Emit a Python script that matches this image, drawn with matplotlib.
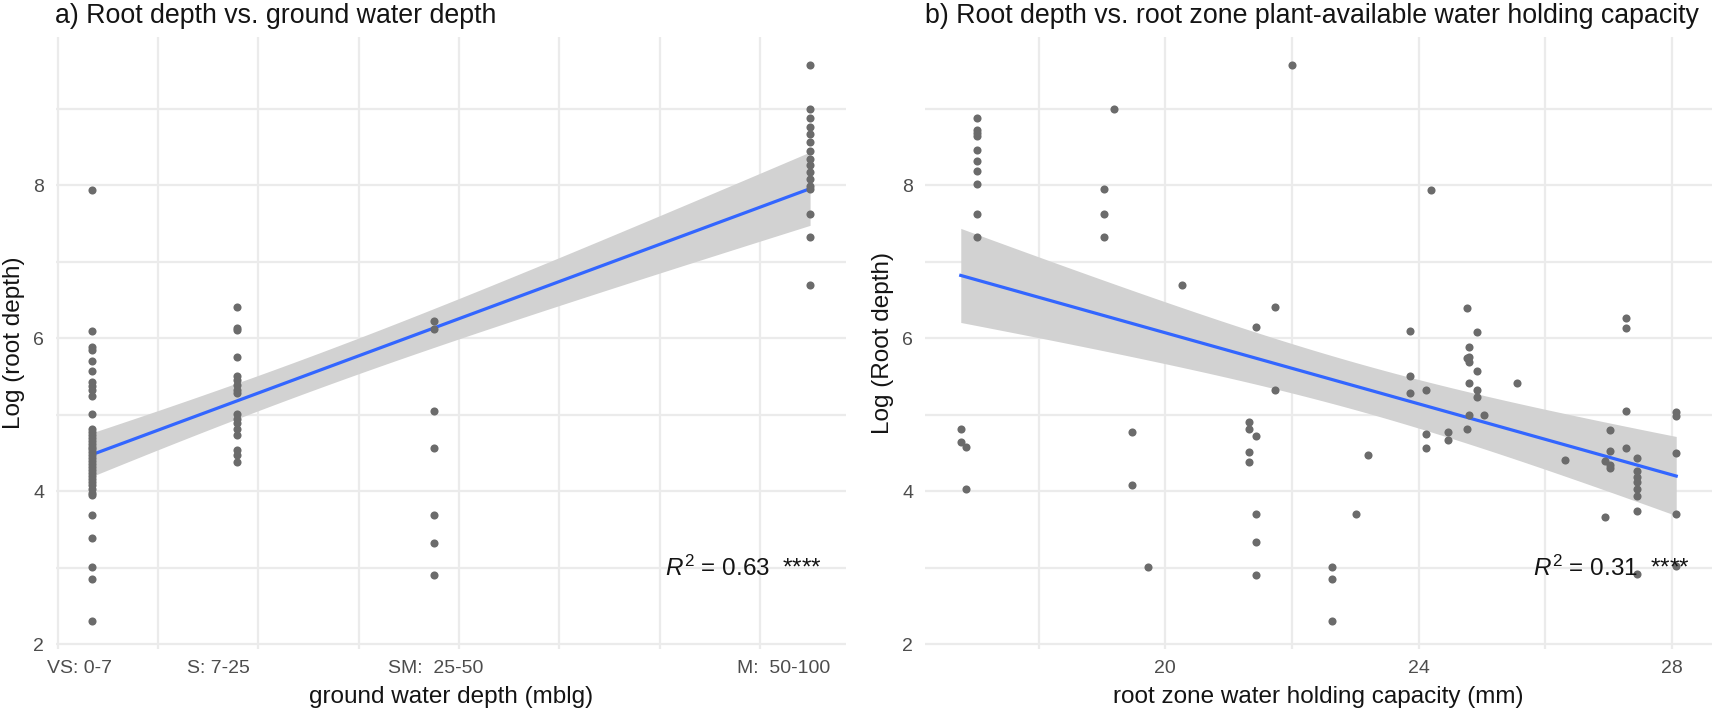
import numpy as np
import matplotlib
matplotlib.use("Agg")
import matplotlib.pyplot as plt

plt.rcParams['font.family'] = ['Liberation Sans', 'DejaVu Sans']
plt.rcParams['mathtext.fontset'] = 'custom'
plt.rcParams['mathtext.rm'] = 'Liberation Sans'
plt.rcParams['mathtext.it'] = 'Liberation Sans:italic'

# ---------------- data: panel a ----------------
gw_categories = ["VS: 0-7", "S: 7-25", "SM:  25-50", "M:  50-100"]
gw_label_pos = [2.15, 16.0, 37.7, 72.4]
gw_x = [3.4, 17.9, 37.5, 75.0]          # position of each depth class on the numeric axis
vs_depth = [7.93, 6.09, 5.89, 5.85, 5.70, 5.57, 5.43, 5.38, 5.32, 5.24, 5.01,
            4.82, 4.78, 4.74, 4.70, 4.66, 4.62, 4.58, 4.55, 4.51, 4.47, 4.43, 4.40,
            4.36, 4.32, 4.28, 4.24, 4.20, 4.16, 4.12, 4.08, 4.03, 3.98, 3.95,
            3.69, 3.39, 3.01, 2.85, 2.31]
s_depth = [6.41, 6.13, 6.11, 5.75, 5.51, 5.46, 5.39, 5.32, 5.28, 5.01, 4.95,
           4.89, 4.82, 4.73, 4.54, 4.47, 4.38]
sm_depth = [6.22, 6.12, 5.05, 4.56, 3.69, 3.33, 2.91]
m_depth = [9.57, 9.00, 8.87, 8.76, 8.67, 8.56, 8.45, 8.34, 8.26, 8.17, 8.08,
           7.99, 7.95, 7.62, 7.32, 6.70]
gw_r2_label = "0.63"

# ---------------- data: panel b ----------------
whc_mm = [16.77, 16.77, 16.86, 16.86,
          17.03, 17.03, 17.03, 17.03, 17.03, 17.03, 17.03, 17.03, 17.03, 17.03,
          19.03, 19.03, 19.03, 19.19, 19.48, 19.48, 19.72, 20.26,
          21.32, 21.32, 21.32, 21.32, 21.44, 21.44, 21.44, 21.44, 21.44,
          21.74, 21.74, 22.00, 22.64, 22.64, 22.64, 23.01, 23.20,
          23.87, 23.87, 23.87, 24.11, 24.11, 24.11, 24.19, 24.46, 24.46,
          24.76, 24.76, 24.76, 24.80, 24.80, 24.80, 24.80, 24.80,
          24.93, 24.93, 24.93, 24.93, 25.03, 25.55, 26.31, 26.95, 26.95,
          27.02, 27.02, 27.02, 27.02, 27.27, 27.27, 27.27, 27.27,
          27.45, 27.45, 27.45, 27.45, 27.45, 27.45, 27.45, 27.45,
          28.07, 28.07, 28.07, 28.07, 28.07]
whc_root = [4.82, 4.65, 4.58, 4.03,
            8.87, 8.72, 8.68, 8.64, 8.46, 8.31, 8.18, 8.01, 7.62, 7.32,
            7.95, 7.62, 7.32, 9.00, 4.77, 4.08, 3.01, 6.70,
            4.91, 4.82, 4.52, 4.38, 4.72, 3.70, 3.34, 2.91, 6.14,
            6.41, 5.32, 9.57, 3.01, 2.85, 2.31, 3.70, 4.48,
            6.10, 5.50, 5.28, 5.32, 4.75, 4.57, 7.93, 4.78, 4.67,
            6.40, 5.74, 4.82, 5.88, 5.76, 5.69, 5.41, 5.00,
            6.08, 5.57, 5.32, 5.23, 5.00, 5.41, 4.41, 4.39, 3.67,
            4.80, 4.53, 4.34, 4.30, 6.26, 6.13, 5.05, 4.57,
            4.44, 4.27, 4.19, 4.12, 4.03, 3.94, 3.74, 2.92,
            5.04, 4.98, 4.50, 3.70, 3.03]
whc_r2_label = "0.31"

# ---------------- styling ----------------
POINT_C = '#6b6b6b'
LINE_C = '#3366FF'
BAND_C = '#D2D2D2'
GRID_C = '#EBEBEB'
TICK_C = '#4D4D4D'
TEXT_C = '#141414'
T975 = 1.99

fig = plt.figure(figsize=(17.25, 7.17), dpi=100)
PB, PH = 68.5 / 717, 611.4 / 717
axA = fig.add_axes([56 / 1725, PB, 790 / 1725, PH])
axB = fig.add_axes([925 / 1725, PB, 787 / 1725, PH])


def lm_band(ax, x, y):
    x = np.asarray(x, float)
    y = np.asarray(y, float)
    n = len(x)
    b, a = np.polyfit(x, y, 1)
    xs = np.linspace(x.min(), x.max(), 80)
    fit = a + b * xs
    resid = y - (a + b * x)
    s = np.sqrt(np.sum(resid ** 2) / (n - 2))
    sxx = np.sum((x - x.mean()) ** 2)
    se = s * np.sqrt(1.0 / n + (xs - x.mean()) ** 2 / sxx)
    ax.fill_between(xs, fit - T975 * se, fit + T975 * se, color=BAND_C, lw=0, zorder=2)
    ax.plot(xs, fit, color=LINE_C, lw=2.3, zorder=4)


def style(ax):
    for sp in ax.spines.values():
        sp.set_visible(False)
    ax.tick_params(which='both', length=0)
    ax.tick_params(axis='x', pad=8.5, labelsize=14, labelcolor=TICK_C)
    ax.tick_params(axis='y', pad=8.5, labelsize=14, labelcolor=TICK_C)
    ax.set_axisbelow(True)


# ---- panel a ----
xa = np.concatenate([np.full(len(vs_depth), gw_x[0]), np.full(len(s_depth), gw_x[1]),
                     np.full(len(sm_depth), gw_x[2]), np.full(len(m_depth), gw_x[3])])
ya = np.concatenate([vs_depth, s_depth, sm_depth, m_depth])
lm_band(axA, xa, ya)
axA.scatter(xa, ya, s=34, color=POINT_C, lw=0, zorder=5)
rng = xa.max() - xa.min()
axA.set_xlim(xa.min() - 0.05 * rng, xa.max() + 0.05 * rng)
ymin_all = min(ya.min(), min(whc_root))
ymax_all = max(ya.max(), max(whc_root))
yr = ymax_all - ymin_all
ylo, yhi = ymin_all - 0.05 * yr, ymax_all + 0.05 * yr
axA.set_ylim(ylo, yhi)
axA.set_xticks(gw_label_pos, gw_categories)
axA.set_xticks(np.arange(0, 80, 10), minor=True)
axA.set_yticks([2, 4, 6, 8])
axA.set_yticks([3, 5, 7, 9], minor=True)
axA.grid(which='minor', axis='x', color=GRID_C, lw=1.6)
axA.grid(which='both', axis='y', color=GRID_C, lw=1.6)
style(axA)
axA.set_xlabel("ground water depth (mblg)", fontsize=17.5, color=TEXT_C)
axA.set_ylabel("Log (root depth)", fontsize=17.5, color=TEXT_C)
axA.xaxis.set_label_coords(0.5, -0.062)
axA.yaxis.set_label_coords(-0.0397, 0.5)
axA.text(60.5, 2.90, r"$\mathit{R}^2$ = " + gw_r2_label + "  ****", fontsize=17.5,
         va='baseline', ha='left', color=TEXT_C, zorder=6)

# ---- panel b ----
xb = np.asarray(whc_mm)
yb = np.asarray(whc_root)
lm_band(axB, xb, yb)
axB.scatter(xb, yb, s=34, color=POINT_C, lw=0, zorder=5)
rngb = xb.max() - xb.min()
axB.set_xlim(xb.min() - 0.05 * rngb, xb.max() + 0.05 * rngb)
axB.set_ylim(ylo, yhi)
axB.set_xticks([20, 24, 28])
axB.set_xticks([18, 22, 26], minor=True)
axB.set_yticks([2, 4, 6, 8])
axB.set_yticks([3, 5, 7, 9], minor=True)
axB.grid(which='both', color=GRID_C, lw=1.6)
style(axB)
axB.set_xlabel("root zone water holding capacity (mm)", fontsize=17.5, color=TEXT_C)
axB.set_ylabel("Log (Root depth)", fontsize=17.5, color=TEXT_C)
axB.xaxis.set_label_coords(0.5, -0.062)
axB.yaxis.set_label_coords(-0.0394, 0.5)
axB.text(25.81, 2.90, r"$\mathit{R}^2$ = " + whc_r2_label + "  ****", fontsize=17.5,
         va='baseline', ha='left', color=TEXT_C, zorder=6)

TITLE_Y = (717 - 22.7) / 717
fig.text(55 / 1725, TITLE_Y, "a) Root depth vs. ground water depth", fontsize=19.3,
         va='baseline', ha='left', color=TEXT_C)
fig.text(925 / 1725, TITLE_Y, "b) Root depth vs. root zone plant-available water holding capacity",
         fontsize=19.3, va='baseline', ha='left', color=TEXT_C)

fig.savefig("out.png", dpi=100, facecolor='white')
